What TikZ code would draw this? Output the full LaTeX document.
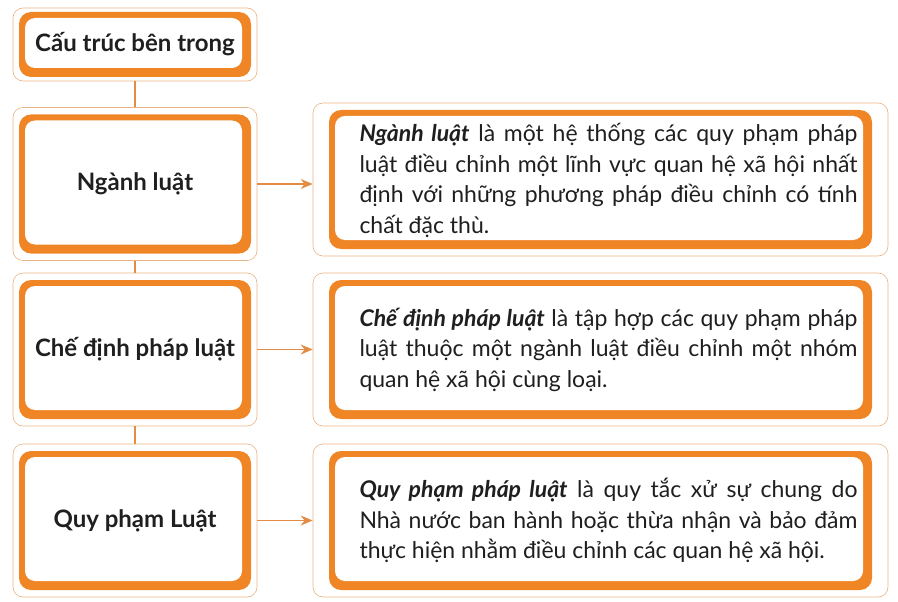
\documentclass[tikz,border=0pt]{standalone}
\usepackage{fontspec}
\setmainfont{Lato}
\usetikzlibrary{arrows.meta}
\definecolor{frameorange}{RGB}{240,133,38}
\definecolor{lineorange}{RGB}{232,178,130}
\definecolor{linkorange}{RGB}{226,140,70}

\tikzset{
  % thin outer box with a thick orange frame inside
  framed/.style 2 args={draw=lineorange, line width=0.6pt, rounded corners=10pt,
    path picture={
      \fill[frameorange, rounded corners=12pt]
        ([shift={(#1,-#2)}]path picture bounding box.north west) rectangle
        ([shift={(-#1,#2)}]path picture bounding box.south east);
      \fill[white, rounded corners=10pt]
        ([shift={(#1+6pt,-#2-6pt)}]path picture bounding box.north west) rectangle
        ([shift={(-#1-9pt,#2+9pt)}]path picture bounding box.south east);
    }},
  leftbox/.style={framed={6pt}{7pt}, minimum width=244pt, minimum height=153pt,
    font=\fontsize{24}{28}\selectfont\bfseries, text=black!88},
  rightbox/.style={framed={16pt}{7pt}, minimum width=575pt, minimum height=153pt},
  desc/.style={text width=498pt, align=justify, inner sep=0pt,
    font=\fontsize{23}{30.5}\selectfont, text=black!88},
  link/.style={draw=linkorange, line width=1.2pt}
}

\begin{document}
\begin{tikzpicture}[x=1pt,y=-1pt,>={Stealth[length=12pt,width=10pt]}]
            \useasboundingbox (0,0) rectangle (898,602);

            % left column
            \node[leftbox, framed={6pt}{4pt}, minimum height=73pt] (top) at (135,44.5) {Cấu trúc bên trong};
            \node[leftbox] (nganh) at (135,184) {Ngành luật};
            \node[leftbox] (chedinh) at (135,349.5) {Chế định pháp luật};
            \node[leftbox] (quypham) at (135,520.5) {Quy phạm Luật};

            % right column
            \node[rightbox] (r1) at (600.5,179.5) {};
            \node[rightbox] (r2) at (600.5,349.5) {};
            \node[rightbox] (r3) at (600.5,520.5) {};

            \node[desc] (t1) at ([xshift=8pt,yshift=-1pt]r1.center) {\textbf{\textit{Ngành luật}} là một hệ thống các quy phạm pháp\linebreak
              luật điều chỉnh một lĩnh vực quan hệ xã hội nhất\linebreak
              định với những phương pháp điều chỉnh có tính\linebreak
              chất đặc thù.};
            \node[desc] (t2) at ([xshift=8pt]r2.center) {\textbf{\textit{Chế định pháp luật}} là tập hợp các quy phạm pháp\linebreak
              luật thuộc một ngành luật điều chỉnh một nhóm\linebreak
              quan hệ xã hội cùng loại.};
            \node[desc] (t3) at ([xshift=8pt]r3.center) {\textbf{\textit{Quy phạm pháp luật}} là quy tắc xử sự chung do\linebreak
              Nhà nước ban hành hoặc thừa nhận và bảo đảm\linebreak
              thực hiện nhằm điều chỉnh các quan hệ xã hội.};

            % connectors
            \draw[link] (top) -- (nganh);
            \draw[link] (nganh) -- (chedinh);
            \draw[link] (chedinh) -- (quypham);
            \draw[link,->] (nganh.east) -- (nganh.east -| r1.west);
            \draw[link,->] (chedinh.east) -- (chedinh.east -| r2.west);
            \draw[link,->] (quypham.east) -- (quypham.east -| r3.west);

        \end{tikzpicture}
\end{document}
